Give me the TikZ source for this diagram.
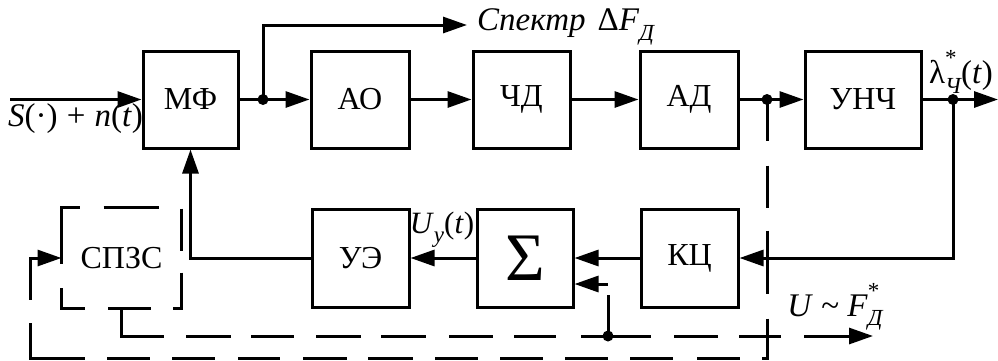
\documentclass[tikz,border=0pt]{standalone}
\usepackage{fontspec}
\setmainfont{Liberation Serif}
\usetikzlibrary{arrows.meta,calc}
\newcommand\lsub[1]{\raisebox{-0.28em}{\fontsize{23}{23}\selectfont\itshape #1}}
\newcommand\lsup[1]{\raisebox{0.55em}{\fontsize{23}{23}\selectfont #1}}
\begin{document}
\begin{tikzpicture}[x=1pt,y=-1pt,
  blk/.style={draw, line width=3pt, minimum width=97pt, minimum height=97pt, inner sep=0pt, font=\fontsize{32}{38}\selectfont},
  ln/.style={line width=3pt},
  lnk/.style={line width=3pt, -{Triangle[length=24pt,width=16pt]}},
  dot/.style={circle, fill, inner sep=0pt, minimum size=11pt},
  lbl/.style={inner sep=0pt, font=\fontsize{33}{38}\selectfont}]
\useasboundingbox (0,0) rectangle (998,360);
% top row
\node[blk, minimum width=95pt] (mf) at (190.5,99.5) {МФ};
\node[blk, minimum width=98pt] (ao) at (360,99.5) {АО};
\node[blk] (chd) at (521.5,99.5) {ЧД};
\node[blk, minimum width=98pt] (ad) at (689,99.5) {АД};
\node[blk, minimum width=116pt] (unch) at (863,99.5) {УНЧ};
% bottom row
\node[blk, draw=none, minimum width=117pt, minimum height=98pt] (spzs) at (121.5,258) {СПЗС};
\node[blk, minimum height=98pt] (ue) at (360.5,258) {УЭ};
\node[blk, minimum width=96pt, minimum height=98pt, font=\fontsize{68}{68}\selectfont] (sum) at (525,258) {Σ};
\node[blk, minimum height=98pt] (kc) at (689.5,258) {КЦ};
% points
\coordinate (in) at (10,99.5);
\coordinate (out) at (998,99.5);
\coordinate (spk) at (467,25);
\node[dot] (j1) at (263,99.5) {};
\node[dot] (j2) at (767,99.5) {};
\node[dot] (j3) at (953,99.5) {};
\node[dot] (j4) at (608,336) {};
\coordinate (fend) at (873,336);
\coordinate (c1) at (767,358);
\coordinate (c2) at (30,358);
% dashed box
\draw[ln, dash pattern=on 43pt off 24pt on 42pt off 22pt on 45pt off 22pt on 43pt off 23pt on 44pt off 24pt on 74pt off 24pt]
  ([xshift=54pt]spzs.north west) -- (spzs.north east) -- (spzs.south east) -- (spzs.south west) -- (spzs.north west) -- cycle;
% solid connectors
\draw[lnk] (in) -- (mf.west);
\draw[ln] (mf.east) -- (j1.center);
\draw[lnk] (j1.center) -- (ao.west);
\draw[lnk] (j1.center) |- (spk);
\draw[lnk] (ao) -- (chd);
\draw[lnk] (chd) -- (ad);
\draw[ln] (ad.east) -- (j2.center);
\draw[lnk] (j2.center) -- (unch.west);
\draw[lnk] (unch.east) -- (out);
\draw[lnk] (j3.center) |- (kc.east);
\draw[lnk] (kc.west) -- (sum.east);
\draw[lnk] (sum.west) -- (ue.east);
\draw[lnk] (ue.west) -| (mf.south);
% dashed connectors
\draw[lnk, dash pattern=on 41pt off 25pt on 42pt off 23pt on 63pt off 25pt on 45pt off 22pt on 43pt off 24pt on 43pt off 22pt on 43pt off 22pt on 43pt off 22pt on 43pt off 22pt on 45pt off 21pt on 44pt off 23pt on 42pt off 23pt on 43pt off 22pt on 43pt off 22pt on 90pt off 23pt on 200pt]
  (j2.center) -- (c1) -- (c2) |- (spzs.west);
\draw[lnk, dash pattern=on 70pt off 22pt on 45pt off 20pt on 43pt off 22pt on 45pt off 20pt on 45pt off 23pt on 44pt off 21pt on 42pt off 25pt on 70pt off 23pt on 44pt off 21pt on 42pt off 23pt on 100pt]
  (spzs.south) |- (fend);
\draw[lnk, dash pattern=on 41pt off 11pt on 200pt] (j4.center) |- ($(sum.east)+(0,26)$);
% labels
\node[lbl, anchor=west] (spt) at (477,27) {\textit{Спектр}\hspace{12pt}Δ\textit{F}\lsub{Д}};
\node[lbl, anchor=north west] (sin) at (8,103) {\textit{S}(·)\;+\;\textit{n}(\textit{t})};
\node[lbl] (lam) at (961,72) {λ\rlap{\lsup{*}}\lsub{Ч}(\textit{t})};
\node[lbl, font=\fontsize{31}{36}\selectfont] (uy) at (442,230) {\textit{U}\lsub{y}(\textit{t})};
\node[lbl] (uf) at (835,307) {\textit{U} \textasciitilde{} \textit{F}\rlap{\lsup{*}}\lsub{Д}};
\end{tikzpicture}
\end{document}
